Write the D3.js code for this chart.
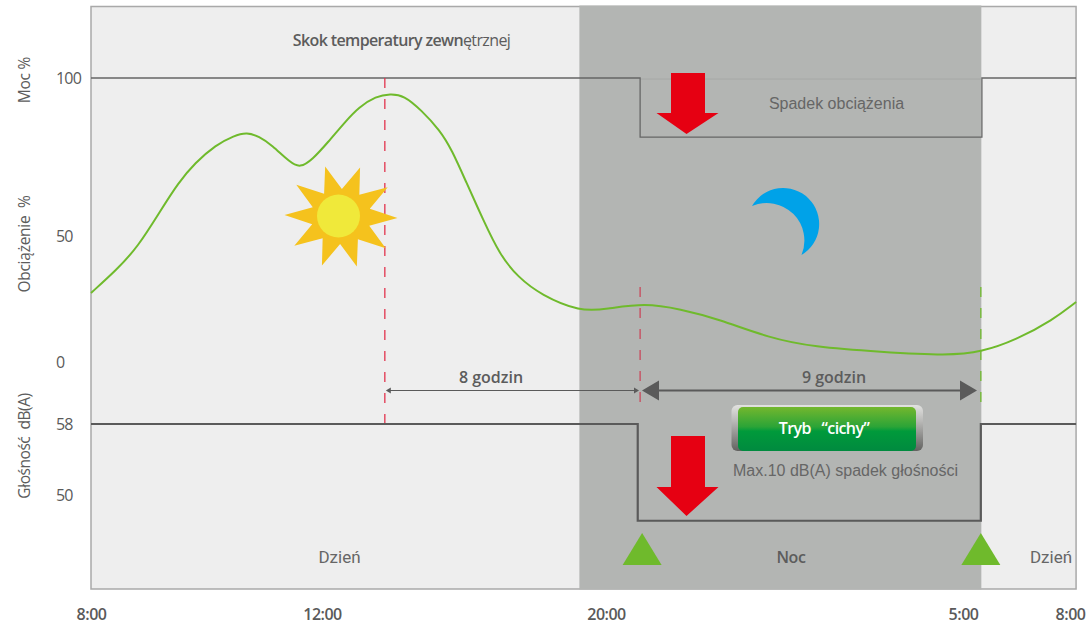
<!DOCTYPE html>
<html>
<head>
<meta charset="utf-8">
<script src="https://cdnjs.cloudflare.com/ajax/libs/d3/7.8.5/d3.min.js"></script>
<style>
html,body{margin:0;padding:0;background:#fff;}
svg{display:block;}
text{font-family:"Open Sans",sans-serif;}
.axis path,.axis line{display:none;}
</style>
</head>
<body>
<svg id="chart" width="1088" height="626"></svg>
<script>
// ---- data ----
const timeStops = [0, 4, 12, 21, 24];
const timeLabels = ["8:00", "12:00", "20:00", "5:00", "8:00"];
const loadHours = [0,0.44,0.81,1.21,1.51,1.80,2.16,2.48,2.70,2.91,3.13,3.45,3.62,3.83,4.17,4.65,5.04,5.52,5.92,6.31,6.79,7.32,7.66,8.06,8.54,9.01,9.52,10.17,11.27,12,12.98,13.87,14.83,16.12,17.23,18.92,20.63,21.53,22.48,23.52,24.17];
const loadValues = [27.4,36.5,45.6,58.2,66.8,73.1,78.8,81.8,82.8,81.5,78.8,73.2,71.6,74.1,79.7,86.1,90.8,94.2,95,94.5,89.9,83.5,77.2,67.1,55.1,42.5,33.7,26.6,20.0,21,23.4,21,17.1,9.5,6,4,2.5,4,8.7,16.7,23.8];
const powerHours = [0, 12.86, 21.53, 24.17];
const powerValues = [100, 81.3, 100, 100];
const noiseHours = [0, 12.8, 21.5, 24.17];
const noiseValues = [58, 47.1, 58, 58];
const loadTicks = [100, 50, 0];
const noiseTicks = [58, 50];
const nightStart = 11.25, nightEnd = 21.5, endHour = 24.17, startHour = 0;
const peakHour = 5.77, quietStart = 12.86, quietEnd = 21.5;

// ---- scales ----
const x = d3.scaleLinear().domain(timeStops).range([91, 322, 606, 963, 1070]);
const yLoad = d3.scaleLinear().domain([0, 50, 100]).range([362, 236, 78]);
const yNoise = d3.scaleLinear().domain([50, 58]).range([495, 424]);

const svg = d3.select("#chart");
const panelTop = 6.5, panelBottom = 589;
const ink = "#5a5a5a";

// gradients
const defs = svg.append("defs");
function grad(id, stops, x2, y2){
  const g = defs.append("linearGradient").attr("id", id).attr("x1",0).attr("y1",0).attr("x2",x2).attr("y2",y2);
  stops.forEach(s => g.append("stop").attr("offset", s[0]).attr("stop-color", s[1]));
}
grad("outerBtn", [[0,"#e2e2e0"],[0.35,"#b9b9b7"],[1,"#626260"]], 0, 1);
grad("innerBtn", [[0,"#74b72e"],[0.45,"#2ba437"],[0.55,"#009a3b"],[1,"#008a3f"]], 0, 1);

// panels
svg.append("rect").attr("x", x(startHour)).attr("y", panelTop)
  .attr("width", x(endHour)-x(startHour)).attr("height", panelBottom-panelTop)
  .attr("fill", "#eeeeee").attr("stroke", "#a9a9a9").attr("stroke-width", 1.5);
svg.append("rect").attr("x", x(nightStart)).attr("y", panelTop-1)
  .attr("width", x(nightEnd)-x(nightStart)+0.5).attr("height", panelBottom-panelTop+1.5)
  .attr("fill", "#b3b5b3");

// faint continuation of 100 % across the drop
svg.append("line").attr("x1", x(quietStart)).attr("x2", x(quietEnd))
  .attr("y1", yLoad(100)+1).attr("y2", yLoad(100)+1)
  .attr("stroke", "#a6a8a6").attr("stroke-width", 1);

// power step line
const powerPts = powerHours.map((h,i)=>[h,powerValues[i]]);
svg.append("path").attr("fill","none").attr("stroke","#666").attr("stroke-width",1.3)
  .attr("d", d3.line().x(d=>x(d[0])).y(d=>yLoad(d[1])).curve(d3.curveStepAfter)(powerPts));

// dashed markers
function dashed(h, y1, y2, color){
  svg.append("line").attr("x1",x(h)).attr("x2",x(h)).attr("y1",y1).attr("y2",y2)
    .attr("stroke",color).attr("stroke-width",1.3).attr("stroke-dasharray","10 11");
}
dashed(peakHour, yLoad(100), yNoise(58), "#e2344e");
dashed(quietStart, 287, 402, "#c9485c");
dashed(quietEnd, 287, 402, "#6fba2c");

// noise step line
const noisePts = noiseHours.map((h,i)=>[h,noiseValues[i]]);
svg.append("path").attr("fill","none").attr("stroke",ink).attr("stroke-width",2.2)
  .attr("d", d3.line().x(d=>x(d[0])).y(d=>yNoise(d[1])).curve(d3.curveStepAfter)(noisePts));

// load curve
const loadPts = loadHours.map((h,i)=>[h,loadValues[i]]);
svg.append("path").attr("fill","none").attr("stroke","#6fba2c").attr("stroke-width",2)
  .attr("d", d3.line().x(d=>x(d[0])).y(d=>yLoad(d[1])).curve(d3.curveBasis)(loadPts));

// sun
const sunX = 341, sunY = 216.5;
const starPts = d3.range(20).map(i => [i*Math.PI/10 + Math.PI/2 + 0.03, i%2===0 ? 56.5 : 30]);
svg.append("path").attr("transform",`translate(${sunX},${sunY}) scale(1,0.92)`).attr("fill","#f5c21d")
  .attr("d", d3.lineRadial().angle(d=>d[0]).radius(d=>d[1]).curve(d3.curveLinearClosed)(starPts));
svg.append("circle").attr("cx",338.5).attr("cy",216).attr("r",21.5).attr("fill","#f0e93a");

// moon
svg.append("path").attr("fill","#00a2e8")
  .attr("d","M752 206 A36 36 0 1 1 801.5 255 A37.6 37.6 0 0 0 752 206 Z");

// red arrows
function redArrow(cx, y0, yHead, yTip){
  svg.append("path").attr("fill","#e60012")
    .attr("d",`M${cx-15.5} ${y0} H${cx+18.5} V${yHead} H${cx+32} L${cx} ${yTip} L${cx-30} ${yHead} H${cx-15.5} Z`);
}
redArrow(686.5, 73, 113, 134);
redArrow(686.5, 436, 487, 516);

// green triangles
[quietStart, quietEnd].forEach(h=>{
  const c = x(h)+ (h===quietStart?2:0);
  svg.append("path").attr("fill","#6fba2c").attr("d",`M${c-19.5} 565 L${c} 533 L${c+19.5} 565 Z`);
});

// span arrows
const yArrow = 390.5;
svg.append("line").attr("x1",x(peakHour)+3).attr("x2",636).attr("y1",yArrow).attr("y2",yArrow)
  .attr("stroke",ink).attr("stroke-width",1);
svg.append("path").attr("fill",ink).attr("d",`M${x(peakHour)+1} ${yArrow} l5 -3 v6 Z`);
svg.append("path").attr("fill",ink).attr("d",`M639 ${yArrow} l-5 -3 v6 Z`);
svg.append("line").attr("x1",650).attr("x2",970).attr("y1",yArrow).attr("y2",yArrow)
  .attr("stroke",ink).attr("stroke-width",2);
svg.append("path").attr("fill",ink).attr("d",`M642 ${yArrow} l17 -10 v20 Z`);
svg.append("path").attr("fill",ink).attr("d",`M977 ${yArrow} l-17 -10 v20 Z`);

// button
svg.append("rect").attr("x",731.5).attr("y",405).attr("width",191.5).attr("height",46).attr("rx",6)
  .attr("fill","url(#outerBtn)");
svg.append("rect").attr("x",738).attr("y",407).attr("width",178).attr("height",44).attr("rx",5)
  .attr("fill","url(#innerBtn)");

// text helper
function label(t, px, py, opts={}){
  const s = svg.append("text").attr("x",px).attr("y",py).text(t)
    .attr("fill",opts.fill||"#5c5c5c")
    .attr("font-size",opts.size||14)
    .attr("font-weight",opts.weight||400)
    .attr("text-anchor",opts.anchor||"middle")
    .attr("dominant-baseline","central")
    .style("font-family",opts.font||'"Open Sans",sans-serif')
    .style("white-space","pre");
  if(opts.ls) s.attr("letter-spacing",opts.ls);
  if(opts.rot) s.attr("transform",`rotate(-90 ${px} ${py})`);
  return s;
}
const skok = label("", 401.5, 40, {size:16, weight:600, ls:-0.63});
skok.append("tspan").text("Skok temperatury zewn");
skok.append("tspan").attr("font-weight",400).text("ętrznej");
label("Spadek obciążenia", 836.5, 103, {size:16, font:'"Liberation Sans",sans-serif', fill:"#666"});
label("Max.10 dB(A) spadek głośności", 845.5, 470.5, {size:16, font:'"Liberation Sans",sans-serif', fill:"#666"});
label("8 godzin", 491, 377, {size:16, weight:600});
label("9 godzin", 834, 377, {size:16, weight:600});
label("Tryb   “cichy”", 824, 428, {size:16, weight:600, fill:"#fff", ls:-0.6});
label("Dzień", 339.5, 557, {size:17, font:'Roboto,sans-serif', fill:"#666"});
label("Noc", 791, 557, {size:16, weight:600, ls:-0.4});
label("Dzień", 1051, 557, {size:17, font:'Roboto,sans-serif', fill:"#666"});
label("Moc %", 24, 80, {size:15.5, rot:true, ls:-0.25});
label("Obciążenie  %", 24, 244, {size:15.5, rot:true, ls:-0.25});
label("Głośność  dB(A)", 24, 446, {size:15.5, rot:true, ls:-0.45});

// axes through d3
const xAxis = d3.axisBottom(x).tickValues(timeStops).tickFormat((d,i)=>timeLabels[i]).tickSize(0);
svg.append("g").attr("class","axis").attr("transform","translate(0,607)").call(xAxis)
  .selectAll("text").attr("font-size",16).attr("font-weight",600).attr("fill","#5a5a5a")
  .attr("letter-spacing",-0.5).attr("dy","0.32em").attr("y",8);

function leftAxis(scale, ticks){
  const g = svg.append("g").attr("class","axis").attr("transform","translate(56,0)")
    .call(d3.axisLeft(scale).tickValues(ticks).tickFormat(d3.format("d")).tickSize(0));
  g.selectAll("text").attr("x",0).attr("text-anchor","start").attr("font-size",16).attr("font-weight",500)
    .attr("fill","#5a5a5a").attr("letter-spacing",-0.8);
}
leftAxis(yLoad, loadTicks);
leftAxis(yNoise, noiseTicks);
</script>
</body>
</html>
